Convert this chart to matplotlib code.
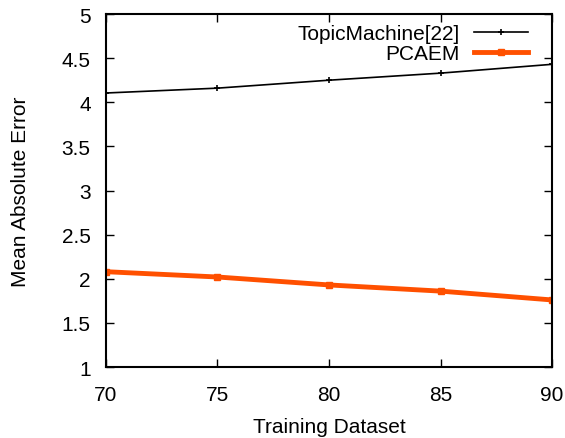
import matplotlib.pyplot as plt

plt.rcParams['font.family'] = ['Liberation Sans', 'DejaVu Sans']

# training dataset size (%)
train = [70, 75, 80, 85, 90]
topic_machine = [4.105, 4.16, 4.25, 4.33, 4.43]
pcaem = [2.08, 2.02, 1.93, 1.86, 1.76]

fig = plt.figure(figsize=(5.65, 4.39), dpi=100)
ax = fig.add_axes([0.1876, 0.1617, 0.7894, 0.8041])

ax.plot(train, topic_machine, color='black', lw=1.2, marker='+', ms=5, mew=1.2,
        label='TopicMachine[22]')
ax.plot(train, pcaem, color='#ff5000', lw=3.5, marker='s', ms=4,
        label='PCAEM')

ax.set_xlim(70, 90)
ax.set_ylim(1, 5)
ax.set_xticks(train)
ax.set_yticks([1, 1.5, 2, 2.5, 3, 3.5, 4, 4.5, 5])
ax.set_yticklabels(['1', '1.5', '2', '2.5', '3', '3.5', '4', '4.5', '5'])
ax.tick_params(direction='in', top=True, right=True, labelsize=15, length=6, width=1)
ax.tick_params(axis='x', pad=13)
ax.tick_params(axis='y', pad=11)
for s in ax.spines.values():
    s.set_linewidth(1.5)

ax.set_xlabel('Training Dataset', fontsize=15, labelpad=9)
ax.set_ylabel('Mean Absolute Error', fontsize=15, labelpad=23)

ax.legend(loc='upper right', frameon=False, fontsize=15, markerfirst=False,
          handlelength=2.6, handletextpad=0.7, borderaxespad=0.1, labelspacing=0.05,
          bbox_to_anchor=(0.97, 1.0))

fig.savefig('out.png', dpi=100)
